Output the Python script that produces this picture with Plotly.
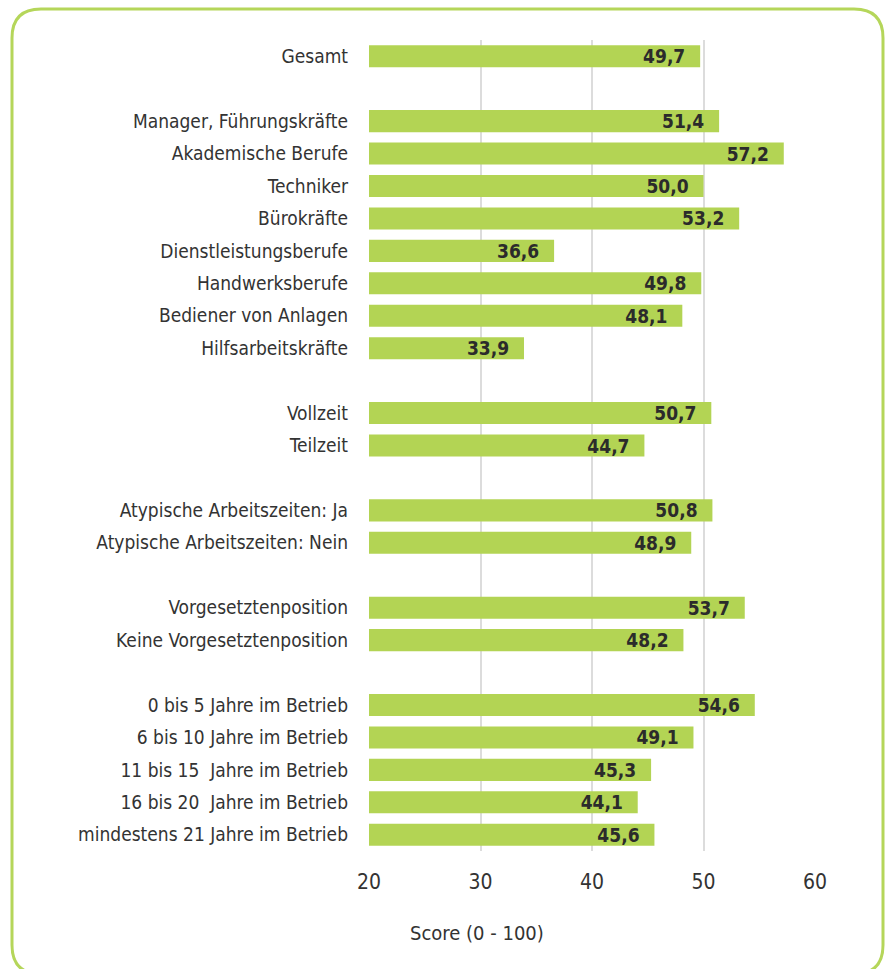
import plotly.graph_objects as go

categories = [
    "Gesamt", " ",
    "Manager, Führungskräfte", "Akademische Berufe", "Techniker", "Bürokräfte",
    "Dienstleistungsberufe", "Handwerksberufe", "Bediener von Anlagen", "Hilfsarbeitskräfte", "  ",
    "Vollzeit", "Teilzeit", "   ",
    "Atypische Arbeitszeiten: Ja", "Atypische Arbeitszeiten: Nein", "    ",
    "Vorgesetztenposition", "Keine Vorgesetztenposition", "     ",
    "0 bis 5 Jahre im Betrieb", "6 bis 10 Jahre im Betrieb", "11 bis 15  Jahre im Betrieb",
    "16 bis 20  Jahre im Betrieb", "mindestens 21 Jahre im Betrieb",
]
values = [
    49.7, None,
    51.4, 57.2, 50.0, 53.2, 36.6, 49.8, 48.1, 33.9, None,
    50.7, 44.7, None,
    50.8, 48.9, None,
    53.7, 48.2, None,
    54.6, 49.1, 45.3, 44.1, 45.6,
]
x_ticks = [20, 30, 40, 50, 60]
axis_title = "Score (0 - 100)"

labels = ["" if v is None else f"{v:.1f}".replace(".", ",") + "\u00a0\u00a0" for v in values]

FONT = "DejaVu Sans Condensed, Liberation Sans Narrow, sans-serif"

W, H = 888, 969
L, R, T, B = 369, 73, 40, 118
pw, ph = W - L - R, H - T - B

def px(x):
    return (x - L) / pw

def py(y):
    return (H - B - y) / ph

fig = go.Figure(go.Bar(
    y=categories, x=values, orientation="h", base=0,
    marker=dict(color="#b3d454", line=dict(width=0)),
    width=0.68,
    text=labels, textposition="inside", insidetextanchor="end",
    constraintext="none",
    textfont=dict(family=FONT, size=19, color="#2b2b2b", weight="bold"),
    cliponaxis=False,
    hoverinfo="skip",
))

# rounded border
x0, x1, y0, y1, r = 12, 883, 9, 974, 29
path = (
    f"M {px(x0 + r)} {py(y0)} L {px(x1 - r)} {py(y0)} "
    f"Q {px(x1)} {py(y0)} {px(x1)} {py(y0 + r)} "
    f"L {px(x1)} {py(y1 - r)} Q {px(x1)} {py(y1)} {px(x1 - r)} {py(y1)} "
    f"L {px(x0 + r)} {py(y1)} Q {px(x0)} {py(y1)} {px(x0)} {py(y1 - r)} "
    f"L {px(x0)} {py(y0 + r)} Q {px(x0)} {py(y0)} {px(x0 + r)} {py(y0)} Z"
)
fig.add_shape(type="path", path=path, xref="paper", yref="paper",
              line=dict(color="#b5d65a", width=3), layer="below")

fig.add_annotation(text=axis_title, xref="paper", yref="paper",
                   x=px(477), y=py(933), xanchor="center", yanchor="middle",
                   showarrow=False,
                   font=dict(family=FONT, size=20, color="#333333"))

fig.update_layout(
    width=W, height=H,
    margin=dict(l=L, r=R, t=T, b=B),
    paper_bgcolor="white", plot_bgcolor="white",
    showlegend=False,
    font=dict(family=FONT, color="#333333"),
)
fig.update_xaxes(
    range=[20, 60], tickvals=x_ticks, ticktext=[str(t) for t in x_ticks],
    showgrid=True, gridcolor="#dcdcdc", gridwidth=2,
    zeroline=False, showline=False, ticks="",
    tickfont=dict(size=21, color="#333333"),
    ticklabelstandoff=16,
)
fig.update_yaxes(
    categoryorder="array", categoryarray=categories, autorange="reversed",
    showgrid=False, zeroline=False, showline=False, ticks="",
    tickfont=dict(size=19, color="#333333"),
    ticklabelstandoff=20,
)

fig.write_html("out.html", config={"displayModeBar": False},
               post_script="document.body.style.margin='0';document.body.style.overflow='hidden';")
